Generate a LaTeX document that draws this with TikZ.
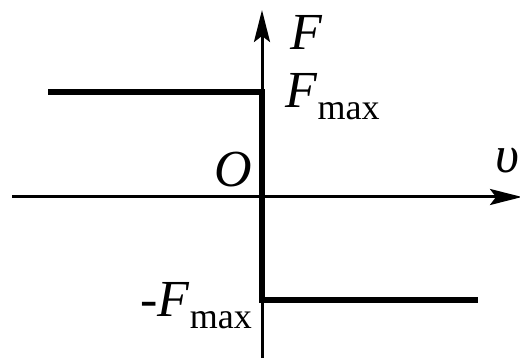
\documentclass[tikz,border=0pt]{standalone}
\usepackage{fontspec}
\setmainfont{Liberation Serif}
\usetikzlibrary{arrows.meta}
\begin{document}
\begin{tikzpicture}[x=0.5pt,y=0.5pt,
  axis/.style={line width=1.5pt,-{Stealth[length=16pt,width=8pt,inset=3pt]}},
  force/.style={line width=3pt},
  lbl/.style={inner sep=0pt,anchor=base west,font=\fontsize{26}{26}\selectfont}]
  \useasboundingbox (0,0) rectangle (520,358);
  \coordinate (xl) at (12,161);
  \coordinate (xr) at (522,161);
  \coordinate (yb) at (262,0);
  \coordinate (yt) at (262,348);
  \coordinate (p1) at (48,266);
  \coordinate (p2) at (262,266);
  \coordinate (p3) at (262,58);
  \coordinate (p4) at (478,58);
  \draw[axis] (xl) -- (xr);
  \draw[axis] (yb) -- (yt);
  \draw[force] (p1) -- (p2) -- (p3) -- (p4);
  \node[lbl] (lF) at (290,308) {\textit{F}};
  \node[lbl] (lFmax) at (285,250) {\textit{F}\raisebox{-6pt}{\fontsize{18}{18}\selectfont max}};
  \node[lbl] (lO) at (214,171) {\textit{O}};
  \node[lbl] (lnFmax) at (140,41) {-\textit{F}\raisebox{-6pt}{\fontsize{18}{18}\selectfont max}};
  \node[lbl] (lv) at (495,185) {\textit{υ}};
\end{tikzpicture}
\end{document}
